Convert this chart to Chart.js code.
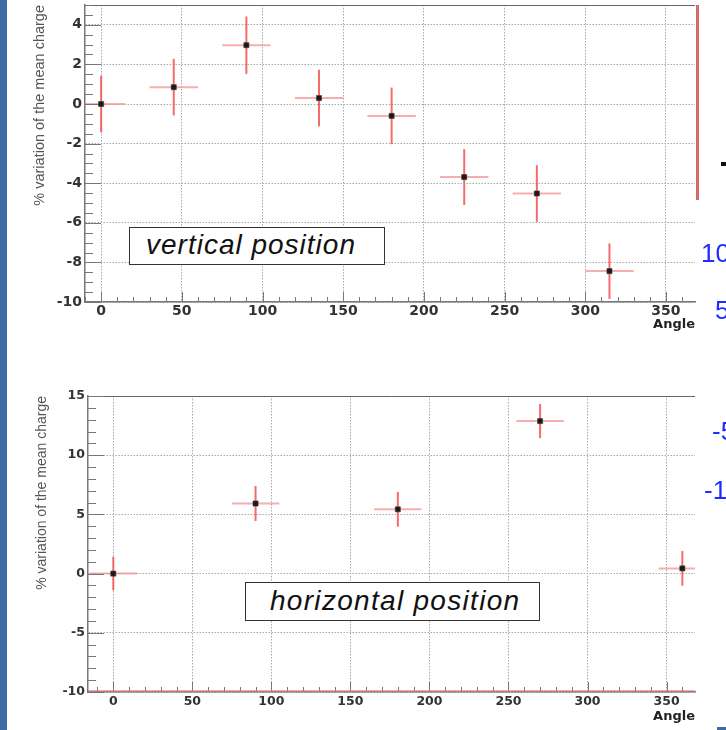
<!DOCTYPE html>
<html>
<head>
<meta charset="utf-8">
<script src="https://cdn.jsdelivr.net/npm/chart.js@4.4.1/dist/chart.umd.min.js"></script>
<style>
  html, body { margin: 0; padding: 0; background: #fff; }
  body { width: 726px; height: 730px; position: relative; overflow: hidden; font-family: 'Liberation Sans', Arial, sans-serif; }
  canvas { position: absolute; left: 0; }
  #topChart { top: 0; }
  #bottomChart { top: 340px; }
  .bar { position: absolute; left: 0; top: 0; width: 7px; height: 730px; background: #3c6ba6; }
  .label-box { position: absolute; border: 1.5px solid #333; background: #fff; font-style: italic; color: #111; box-sizing: border-box; white-space: nowrap; }
  .frag { position: absolute; color: #1f2bff; font-size: 26px; line-height: 1; }
</style>
</head>
<body>
<div class="bar"></div>
<canvas id="topChart" width="726" height="336"></canvas>
<canvas id="bottomChart" width="726" height="390"></canvas>

<div class="label-box" style="left:129px; top:227px; width:256px; height:38px; font-size:28px; line-height:34px; padding-left:16px; letter-spacing:1px;">vertical position</div>
<div class="label-box" style="left:245px; top:582px; width:295px; height:39px; font-size:28px; line-height:35px; padding-left:24px; letter-spacing:1.3px;">horizontal position</div>

<!-- bits of the neighbouring slide, cut off at the right edge -->
<div style="position:absolute; left:696px; top:5px; width:3px; height:195px; background:#d46a6a;"></div>
<div style="position:absolute; left:721px; top:162px; width:5px; height:4px; background:#111;"></div>
<div class="frag" style="left:701px; top:240px;">10</div>
<div class="frag" style="left:715px; top:297px;">5</div>
<div class="frag" style="left:712px; top:418px;">-5</div>
<div class="frag" style="left:704px; top:477px;">-10</div>
<div style="position:absolute; left:717px; top:727px; width:9px; height:3px; background:#3c6ba6;"></div>

<script>
// vertical position scan
const anglesV = [0, 45, 90, 135, 180, 225, 270, 315];
const variationV = [0, 0.85, 2.97, 0.3, -0.6, -3.69, -4.52, -8.44];
const errorV = [1.43, 1.43, 1.45, 1.43, 1.43, 1.41, 1.43, 1.4];
const angleErrV = [15, 15, 15, 15, 15, 15, 15, 15];

// horizontal position scan
const anglesH = [0, 90, 180, 270, 360];
const variationH = [0, 5.92, 5.43, 12.88, 0.44];
const errorH = [1.42, 1.48, 1.47, 1.44, 1.46];
const angleErrH = [15, 15, 15, 15, 15];

const angleTicks = [0, 50, 100, 150, 200, 250, 300, 350];
const yTicksV = [-10, -8, -6, -4, -2, 0, 2, 4];
const yTicksH = [-10, -5, 0, 5, 10, 15];

// error bars, drawn below the markers
const errorBars = {
  id: 'errorBars',
  beforeDatasetsDraw(chart, args, opts) {
    const { ctx, chartArea: a, scales: { x, y } } = chart;
    ctx.save();
    ctx.beginPath();
    ctx.rect(a.left, a.top, a.right - a.left, a.bottom - a.top);
    ctx.clip();
    ctx.lineWidth = 2;
    opts.angles.forEach((ang, i) => {
      const v = opts.values[i];
      const px = x.getPixelForValue(ang);
      const py = y.getPixelForValue(v);
      ctx.strokeStyle = 'rgba(245,140,140,0.7)';
      ctx.beginPath();
      ctx.moveTo(x.getPixelForValue(ang - opts.xErr[i]), py);
      ctx.lineTo(x.getPixelForValue(ang + opts.xErr[i]), py);
      ctx.stroke();
      ctx.strokeStyle = 'rgba(245,80,80,0.85)';
      ctx.beginPath();
      ctx.moveTo(px, y.getPixelForValue(v - opts.yErr[i]));
      ctx.lineTo(px, y.getPixelForValue(v + opts.yErr[i]));
      ctx.stroke();
    });
    ctx.restore();
  }
};

// ROOT style frame: top line and tick marks pointing into the pad
const rootFrame = {
  id: 'rootFrame',
  beforeDatasetsDraw(chart, args, opts) {
    const { ctx, chartArea: a, scales: { x, y } } = chart;
    ctx.save();
    ctx.strokeStyle = '#666';
    ctx.lineWidth = 1;
    ctx.beginPath();
    ctx.moveTo(a.left, a.top + 0.5);
    ctx.lineTo(a.right, a.top + 0.5);
    ctx.stroke();

    ctx.strokeStyle = '#777';
    ctx.beginPath();
    for (let v = Math.ceil(x.min / 10) * 10; v <= x.max; v += 10) {
      const px = Math.round(x.getPixelForValue(v)) + 0.5;
      const len = v % 50 === 0 ? 10 : 5;
      ctx.moveTo(px, a.bottom);
      ctx.lineTo(px, a.bottom - len);
    }
    for (let v = y.min; v <= y.max + 1e-9; v += opts.yMinor) {
      const py = Math.round(y.getPixelForValue(v)) + 0.5;
      const len = Math.abs(v % opts.yMajor) < 1e-9 ? 16 : 8;
      ctx.moveTo(a.left, py);
      ctx.lineTo(a.left + len, py);
    }
    ctx.stroke();

    if (opts.baseline !== undefined) {
      const py = y.getPixelForValue(opts.baseline) - 1;
      ctx.strokeStyle = 'rgba(225,120,120,0.6)';
      ctx.lineWidth = 2;
      ctx.beginPath();
      ctx.moveTo(a.left, py);
      ctx.lineTo(a.right, py);
      ctx.stroke();
    }
    ctx.restore();
  }
};

function makeChart(id, o) {
  const ctx = document.getElementById(id).getContext('2d');
  return new Chart(ctx, {
    type: 'scatter',
    data: {
      datasets: [{
        data: o.angles.map((a, i) => ({ x: a, y: o.values[i] })),
        pointStyle: 'rect',
        pointRadius: 3.6,
        backgroundColor: '#1a1a1a',
        borderColor: 'rgba(60,60,60,0.6)',
        borderWidth: 1
      }]
    },
    options: {
      responsive: false,
      animation: false,
      layout: { padding: { left: 0, top: o.top, right: 31, bottom: 0 } },
      plugins: {
        legend: { display: false },
        tooltip: { enabled: false },
        errorBars: { angles: o.angles, values: o.values, yErr: o.yErr, xErr: o.xErr },
        rootFrame: { yMinor: o.yMinor, yMajor: o.yMajor, baseline: o.baseline }
      },
      scales: {
        x: {
          type: 'linear',
          min: o.xMin,
          max: 368,
          afterBuildTicks: s => { s.ticks = angleTicks.map(v => ({ value: v })); },
          afterFit: s => { s.height = o.xAxisHeight; s.paddingLeft = 0; s.paddingRight = 0; },
          ticks: {
            color: '#333',
            padding: o.tickPadX,
            maxRotation: 0,
            autoSkip: false,
            font: { family: 'DejaVu Sans', weight: 'bold', size: o.tickSize }
          },
          grid: { color: '#aaa', lineWidth: 1, drawTicks: false },
          border: { display: true, color: '#777', width: 1.5, dash: [1.5, 1.5] },
          title: {
            display: true,
            text: 'Angle',
            align: 'end',
            color: '#222',
            padding: { top: 0, bottom: o.anglePad },
            font: { family: 'DejaVu Sans', weight: 'bold', size: 13 }
          }
        },
        y: {
          type: 'linear',
          min: o.yMin,
          max: o.yMax,
          afterBuildTicks: s => { s.ticks = o.yTicks.map(v => ({ value: v })); },
          afterFit: s => { s.width = o.left; s.paddingTop = 0; s.paddingBottom = 0; },
          ticks: {
            color: '#333',
            padding: 3,
            font: { family: 'DejaVu Sans', weight: 'bold', size: o.tickSize }
          },
          grid: { color: '#aaa', lineWidth: 1, drawTicks: false },
          border: { display: true, color: '#777', width: 1.5, dash: [1.5, 1.5] },
          title: {
            display: true,
            text: '% variation of the mean charge',
            align: 'end',
            color: '#555',
            padding: { top: o.titlePad, bottom: 0 },
            font: { family: 'Liberation Sans', size: o.titleSize }
          }
        }
      }
    },
    plugins: [errorBars, rootFrame]
  });
}

makeChart('topChart', {
  angles: anglesV, values: variationV, yErr: errorV, xErr: angleErrV,
  yTicks: yTicksV, yMin: -10, yMax: 5, yMinor: 0.5, yMajor: 2,
  xMin: -10, top: 5, left: 85, xAxisHeight: 34,
  tickSize: 14, tickPadX: 1, anglePad: 4, titlePad: 31, titleSize: 14.5
});

makeChart('bottomChart', {
  angles: anglesH, values: variationH, yErr: errorH, xErr: angleErrH,
  yTicks: yTicksH, yMin: -10, yMax: 15, yMinor: 1, yMajor: 5, baseline: -10,
  xMin: -16, top: 56, left: 88, xAxisHeight: 38,
  tickSize: 12.5, tickPadX: 2, anglePad: 6, titlePad: 34, titleSize: 14
});
</script>
</body>
</html>
